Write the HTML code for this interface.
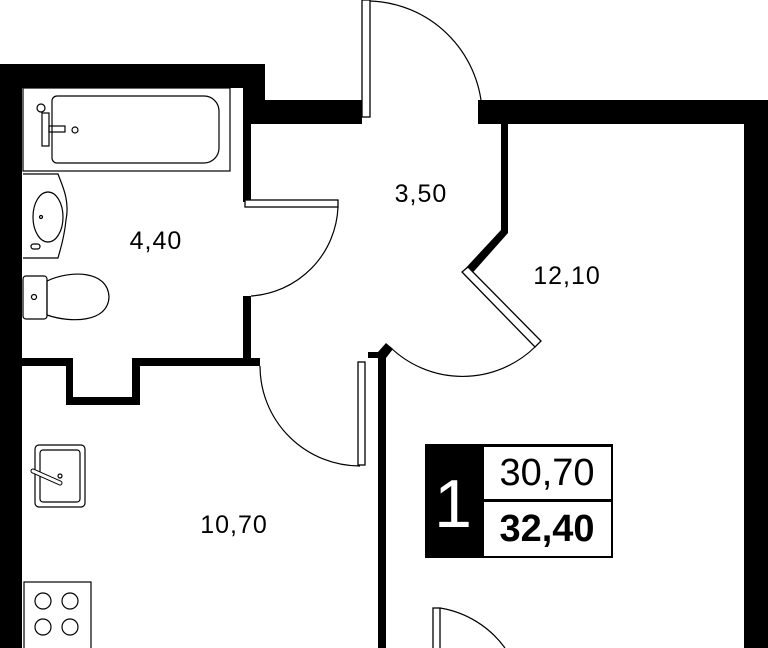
<!DOCTYPE html>
<html><head><meta charset="utf-8"><style>html,body{margin:0;padding:0;background:#fff}svg{display:block}</style></head>
<body>
<svg width="768" height="648" viewBox="0 0 768 648" xmlns="http://www.w3.org/2000/svg" font-family="Liberation Sans, sans-serif">
<g fill="#000">
<rect x="0" y="64" width="265" height="24"/>
<rect x="0" y="64" width="22" height="584"/>
<rect x="243" y="64" width="22" height="36"/>
<rect x="243" y="100" width="119" height="24"/>
<rect x="243" y="88" width="8" height="114"/>
<rect x="243" y="296" width="8" height="70"/>
<rect x="478" y="100" width="290" height="24"/>
<rect x="744" y="100" width="24" height="548"/>
<rect x="22" y="358" width="51" height="8"/>
<rect x="66" y="358" width="7" height="47"/>
<rect x="66" y="397" width="74" height="8"/>
<rect x="132" y="358" width="8" height="47"/>
<rect x="132" y="358" width="128" height="8"/>
<rect x="501" y="124" width="7" height="109"/>
<polygon points="501,230 508,233 468,278 462,272"/>
<rect x="378" y="358" width="8" height="290"/>
<polygon points="368,358 386,358 393,349 386,343 378,352 368,352"/>
</g>
<g fill="#fff" stroke="#000" stroke-width="1.3">
<rect x="362" y="0" width="8" height="117"/>
<rect x="245" y="200" width="93" height="7"/>
<rect x="358" y="362" width="7" height="103"/>
<polygon points="462,272 468,267 541,341 535,347"/>
<rect x="433" y="608" width="7" height="45"/>
</g>
<g fill="none" stroke="#000" stroke-width="1.2">
<path d="M370 1 A116 116 0 0 1 482 110"/>
<path d="M338 207 A93 93 0 0 1 251 296"/>
<path d="M260 366 A100 100 0 0 0 360 466"/>
<path d="M535 347 A104 104 0 0 1 390 347"/>
<path d="M440 608 A100 100 0 0 1 505 648"/>
<rect x="23" y="88" width="207" height="83"/>
<path d="M52 101 a5 5 0 0 1 5 -5 H204 a15 15 0 0 1 15 15 V148 a15 15 0 0 1 -15 15 H57 a5 5 0 0 1 -5 -5 Z"/>
<circle cx="41" cy="108" r="4"/>
<rect x="42" y="113" width="7" height="33"/>
<rect x="49" y="126" width="16" height="6"/>
<circle cx="75" cy="130" r="3"/>
<path d="M23 174 H58 C62 185 70 200 66 220 C64 240 60 250 58 258 H23"/>
<ellipse cx="48" cy="217" rx="15" ry="25"/>
<circle cx="41" cy="217" r="1.5"/>
<rect x="31" y="244" width="9" height="5" rx="2.5"/>
<rect x="23" y="276" width="24" height="43" rx="3"/>
<path d="M47 281 C70 270 108 270 109 297 C108 323 70 323 47 315 Z"/>
<circle cx="34" cy="297" r="2.5"/>
<rect x="35" y="445" width="50" height="62" rx="4"/>
<rect x="40" y="450" width="40" height="52" rx="3"/>
<path d="M33 471 L60 483" stroke-width="5" stroke-linecap="round"/>
<path d="M33 471 L60 483" stroke="#fff" stroke-width="3" stroke-linecap="round"/>
<circle cx="60" cy="476" r="2"/>
<rect x="24" y="582" width="67" height="70"/>
<circle cx="43" cy="601" r="8"/><circle cx="70" cy="601" r="8"/>
<circle cx="43" cy="627" r="8"/><circle cx="70" cy="627" r="8"/>
</g>
<rect x="425" y="444" width="188" height="114" fill="#000"/>
<rect x="484" y="447" width="127" height="52" fill="#fff"/>
<rect x="484" y="502" width="127" height="54" fill="#fff"/>
<text x="453" y="527" font-size="68" fill="#fff" text-anchor="middle">1</text>
<text x="547" y="485" font-size="38" text-anchor="middle">30,70</text>
<text x="547" y="541" font-size="38" font-weight="bold" text-anchor="middle">32,40</text>
<g font-size="25" text-anchor="middle" letter-spacing="1">
<text x="156" y="249">4,40</text>
<text x="421" y="202">3,50</text>
<text x="567" y="284">12,10</text>
<text x="234" y="533">10,70</text>
</g>
</svg>
</body></html>
